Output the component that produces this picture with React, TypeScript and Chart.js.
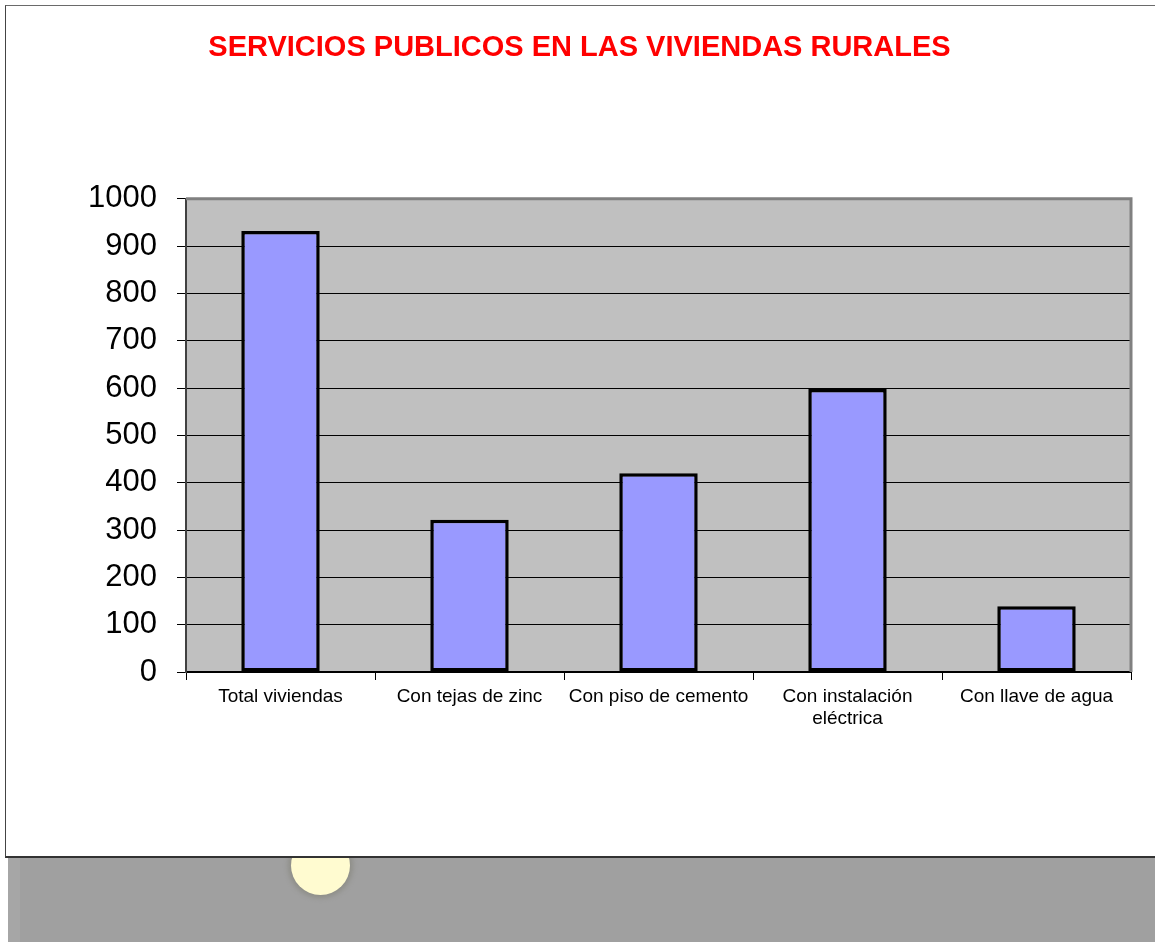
import React, { useEffect, useRef } from "react";
import { Chart, registerables } from "chart.js";

Chart.register(...registerables);

const categories: (string | string[])[] = [
  "Total viviendas",
  "Con tejas de zinc",
  "Con piso de cemento",
  ["Con instalación", "eléctrica"],
  "Con llave de agua",
];
const values: number[] = [932, 322, 420, 598, 139];
const yTicks: number[] = [0, 100, 200, 300, 400, 500, 600, 700, 800, 900, 1000];
const titleText = "SERVICIOS PUBLICOS EN LAS VIVIENDAS RURALES";

const FONT = "'Liberation Sans', Arial, sans-serif";

const plotDecor = {
  id: "plotDecor",
  beforeDraw(chart: any) {
    const { ctx, chartArea } = chart;
    ctx.save();
    ctx.fillStyle = "#c0c0c0";
    ctx.fillRect(chartArea.left, chartArea.top, chartArea.right - chartArea.left, chartArea.bottom - chartArea.top);
    ctx.restore();
  },
  afterDraw(chart: any) {
    const { ctx, chartArea } = chart;
    ctx.save();
    ctx.strokeStyle = "#808080";
    ctx.lineWidth = 3;
    ctx.beginPath();
    ctx.moveTo(chartArea.left, chartArea.top);
    ctx.lineTo(chartArea.right, chartArea.top);
    ctx.lineTo(chartArea.right, chartArea.bottom);
    ctx.stroke();
    ctx.restore();
  },
};

function BarChart() {
  const ref = useRef<HTMLCanvasElement | null>(null);
  useEffect(() => {
    if (!ref.current) return;
    const chart = new Chart(ref.current, {
      type: "bar",
      data: {
        labels: categories as any,
        datasets: [
          {
            data: values,
            backgroundColor: "#9999ff",
            borderColor: "#000000",
            borderWidth: 3.5,
            borderSkipped: false,
            categoryPercentage: 1,
            barPercentage: 0.415,
          },
        ],
      },
      options: {
        responsive: false,
        animation: false,
        events: [],
        layout: { padding: { left: 22, right: 24, top: 0, bottom: 0 } },
        plugins: {
          legend: { display: false },
          tooltip: { enabled: false },
          title: {
            display: true,
            text: titleText,
            color: "#ff0000",
            font: { family: FONT, size: 29, weight: "bold", lineHeight: 1.2 },
            padding: { top: 25, bottom: 133 },
          },
        },
        scales: {
          x: {
            grid: {
              offset: true,
              drawOnChartArea: false,
              drawTicks: true,
              tickLength: 8,
              color: "#000000",
              lineWidth: 1,
            },
            border: { display: true, color: "#000000", width: 2 },
            ticks: {
              color: "#000000",
              font: { family: FONT, size: 19, lineHeight: 1.15 },
              padding: 6,
              maxRotation: 0,
              autoSkip: false,
            },
            afterFit(scale: any) {
              scale.height = 184;
            },
          },
          y: {
            min: 0,
            max: 1000,
            afterBuildTicks(scale: any) {
              scale.ticks = yTicks.map((v) => ({ value: v }));
            },
            grid: {
              color: "#000000",
              lineWidth: 1,
              tickLength: 9,
              drawTicks: true,
            },
            border: { display: true, color: "#404040", width: 2 },
            ticks: {
              color: "#000000",
              font: { family: FONT, size: 31 },
              padding: 20,
              callback: (v: any) => String(v),
            },
            afterFit(scale: any) {
              scale.width = 158;
            },
          },
        },
      },
      plugins: [plotDecor],
    });
    return () => chart.destroy();
  }, []);
  return <canvas ref={ref} width={1149} height={850} style={{ display: "block", width: 1149, height: 850 }} />;
}

export default function App() {
  return (
    <div
      style={{
        position: "fixed",
        left: 0,
        top: 0,
        width: 1155,
        height: 942,
        overflow: "hidden",
        background: "#ffffff",
      }}
    >
      <div
        style={{
          position: "absolute",
          left: 8,
          top: 830,
          width: 1147,
          height: 112,
          background: "linear-gradient(to right, #a6a6a6 0px, #a6a6a6 12px, #a0a0a0 12px)",
        }}
      />
      <div
        style={{
          position: "absolute",
          left: 291,
          top: 836,
          width: 59,
          height: 59,
          borderRadius: "50%",
          background: "#fffbd0",
          boxShadow: "0 0 5px 3px #8e8e88",
        }}
      />
      <div
        style={{
          position: "absolute",
          left: 5,
          top: 5,
          width: 1160,
          height: 850,
          background: "#ffffff",
          borderTop: "1px solid #6a6a6a",
          borderLeft: "1px solid #444444",
          borderBottom: "2px solid #333333",
        }}
      >
        <BarChart />
      </div>
    </div>
  );
}
